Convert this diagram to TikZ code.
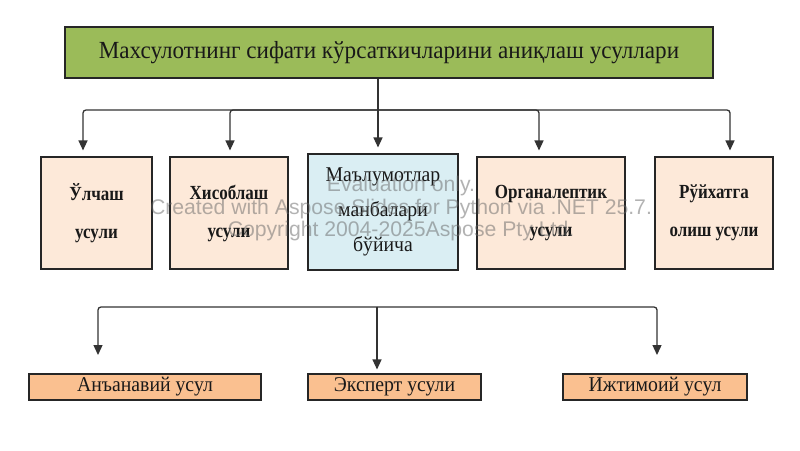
\documentclass[tikz,border=0pt]{standalone}
\usepackage{fontspec}
\setmainfont{Liberation Serif}
\newfontfamily\methodfont[FakeStretch=0.85]{Liberation Serif}
\newfontfamily\plainfont[FakeStretch=0.94]{Liberation Serif}
\newfontfamily\marksans{Liberation Sans}
\usetikzlibrary{arrows.meta}
\definecolor{titlegreen}{HTML}{9BBB59}
\definecolor{methodpeach}{HTML}{FDE9D9}
\definecolor{methodblue}{HTML}{DAEEF3}
\definecolor{kindorange}{HTML}{FAC090}
\def\busy{110}
\def\lowbusy{307}

\begin{document}
\begin{tikzpicture}[x=1pt,y=-1pt,>={Triangle[length=10pt,width=9pt]},draw=black!80,line width=1.3pt]
    \tikzstyle{box}=[draw=black!85,line width=1.1pt,inner sep=0pt,text=black!90,align=center]
    \tikzstyle{title box}=[box,fill=titlegreen,minimum width=648pt,minimum height=51pt,font=\plainfont\fontsize{24.6}{26}\selectfont]
    \tikzstyle{method box}=[box,fill=methodpeach,minimum height=112pt,font=\methodfont\bfseries\fontsize{20}{38}\selectfont]
    \tikzstyle{source box}=[method box,fill=methodblue,minimum height=116pt,font=\plainfont\fontsize{21}{35}\selectfont]
    \tikzstyle{kind box}=[box,fill=kindorange,minimum height=26pt,font=\plainfont\fontsize{21}{24}\selectfont]
    \tikzstyle{watermark}=[text=black!60,text opacity=0.5,align=center,font=\marksans\fontsize{21.2}{22.5}\selectfont]

    \fill[white] (0,0) rectangle (800,450);
    \useasboundingbox (0,0) rectangle (800,450);

    % Draw the title box
    \node[title box] (T) at (389,52.5) {Махсулотнинг сифати кўрсаткичларини аниқлаш усуллари};

    % Draw the methods row
    \foreach \name/\x/\w/\txt in {1/96.5/111/{Ўлчаш\\усули}, 2/229/118/{Хисоблаш\\усули},
                                  4/551/148/{Органалептик\\усули}, 5/714/118/{Рўйхатга\\олиш усули}}
        \node[method box,minimum width=\w pt] (U-\name) at (\x,213) {\txt};
    \node[source box,minimum width=150pt] (U-3) at (383,212) {Маълумотлар\\манбалари\\бўйича};

    % Draw the kinds row
    \foreach \name/\x/\w/\txt in {1/145/232/Анъанавий усул, 2/394.5/173/Эксперт усули, 3/655/184/Ижтимоий усул}
        \node[kind box,minimum width=\w pt] (A-\name) at (\x,387) {\txt};

    % Connect the title with every method
    \coordinate (t0) at (378,\busy);
    \draw (T.south -| t0) -- (t0);
    \foreach \name/\x in {1/83,2/230,3/378,4/539,5/730}
        \draw[->,rounded corners=3pt,shorten >=6pt] (t0) -| (U-\name.north -| \x,0);

    % Draw the lower row of arrows
    \coordinate (b0) at (377,\lowbusy);
    \coordinate (f-1) at (98,355);
    \coordinate (f-3) at (657,355);
    \draw[->,rounded corners=3pt] (b0) -| (f-1);
    \draw[->,rounded corners=3pt] (b0) -| (f-3);
    \draw[->,shorten >=4pt] (b0) -- (A-2.north -| b0);

    % Watermark over the methods row
    \node[watermark] (W) at (401,209) {Evaluation only.\\Created with Aspose.Slides for Python via .NET 25.7.\\Copyright 2004-2025Aspose Pty Ltd.};

\end{tikzpicture}
\end{document}
